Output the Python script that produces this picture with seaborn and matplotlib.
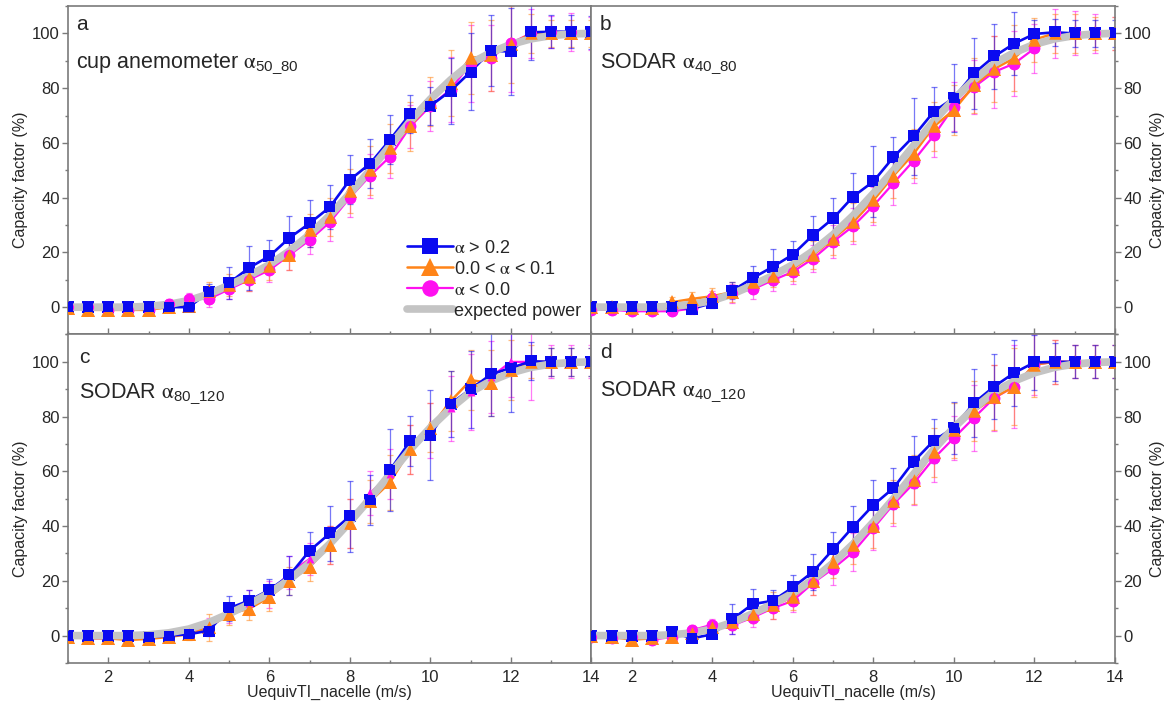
import numpy as np
import pandas as pd
import matplotlib
matplotlib.use("Agg")
import matplotlib.pyplot as plt
from matplotlib.ticker import MultipleLocator, FixedLocator
import seaborn as sns

# ---------------- data ----------------
wind = [1, 1.5, 2, 2.5, 3, 3.5, 4, 4.5, 5, 5.5, 6, 6.5, 7, 7.5, 8, 8.5, 9, 9.5,
        10, 10.5, 11, 11.5, 12, 12.5, 13, 13.5, 14]

expected = [0, 0, 0, 0, 0.3, 1, 2.4, 4.8, 8, 11.5, 15.5, 20.5, 26.5, 33.5, 41.5, 50,
            59, 68, 76, 83, 89, 93, 96, 98, 99.2, 99.8, 100]

# panel a
blue_a = [0, 0, 0, 0, 0, 0, 0, 5.5, 8.8, 14.4, 18.6, 25.3, 30.6, 36.5, 46.5, 52.4, 61.2,
          70.6, 73.5, 79, 86, 93.6, 93.4, 100.4, 100.6, 100.6, 100.4]
orange_a = [-0.5, -1, -1, -1, -1, 0, 0.5, 6, 8, 11, 15, 19, 28, 33, 42.5, 50, 58, 66, 75,
            82, 91, 92, 96, 100, 100, 100, 100]
pink_a = [0, 0, -1, -1, -1, 1, 3, 3, 6.5, 10, 13.5, 19, 24.5, 31, 40, 48, 55, 66, 73.5,
          79.5, 89, 91, 96.5, 100, 100.5, 100.5, 100]
blue_err_a = [1.5, 1.5, 1.5, 1.5, 1.5, 1.5, 1.5, 3, 6, 8, 6, 8, 8.5, 8, 9, 9, 9, 7, 7, 12,
              14, 13, 16, 10, 6, 6, 6]
orange_err_a = [1.5, 1.5, 1.5, 1.5, 1.5, 1.5, 1.5, 3, 4, 5, 5, 5.5, 6, 7, 8, 9, 9, 9, 9, 12,
                13, 13, 14, 7, 5, 5, 5]
pink_err_a = [1.5, 1.5, 1.5, 1.5, 1.5, 2, 2, 3, 3.5, 4, 4.5, 5.5, 5, 7, 7, 8, 8, 8, 9, 12,
              14, 12, 18, 9, 6, 7, 6]

# panel b
blue_b = [0, 0, 0, 0, 0, -0.6, 1.5, 6, 10.6, 14.7, 19.2, 26.3, 32.4, 40.4, 45.9, 54.8,
          62.4, 71.4, 76.5, 85.4, 91.6, 96.3, 99.8, 100.4, 100, 100, 100]
orange_b = [0, 0, -0.5, -0.5, 1.8, 3, 4, 5.5, 9, 11.5, 14, 19, 25, 31, 39, 48, 56, 66, 72,
            81, 87, 91, 97.7, 100, 100, 100, 100]
pink_b = [-1, -1, -1.5, -1.5, -1.5, -0.5, 3.5, 5, 6.5, 9.8, 12.9, 17.7, 23.9, 29.6, 37,
          45.3, 53.5, 62.7, 73.2, 80.4, 85.9, 89, 94.5, 100, 100, 100, 100]
blue_err_b = [1.5, 1.5, 1.5, 1.5, 1.5, 1.5, 2, 3, 4.5, 6.5, 5, 7, 7.5, 8.5, 13, 7.5, 14, 9,
              12.5, 13, 12, 11.5, 5, 5, 5, 5, 5]
orange_err_b = [1.5, 1.5, 1.5, 1.5, 2, 2.5, 3, 3.5, 4, 4, 4.5, 5, 6, 7, 8, 8, 9, 9, 9, 10,
                12, 12, 8, 7, 7, 6, 6]
pink_err_b = [1.5, 1.5, 1.5, 1.5, 1.5, 2, 2.5, 3.5, 3.5, 4, 4.5, 5, 6, 6.5, 7, 8, 8, 8, 9,
              10, 13, 12, 9, 9, 8, 7, 6]

# panel c
blue_c = [0, 0, 0, 0, -0.5, 0, 0.5, 1.8, 10, 12.8, 16.7, 22, 31, 37.3, 43.6, 49.5, 60.5,
          71.1, 73.3, 84.7, 90, 95.4, 97.8, 100.2, 100, 100, 100]
orange_c = [-0.5, -1, -1, -1.6, -1.2, -0.5, 0.5, 3, 8, 9.8, 14, 20, 25, 33, 41, 49, 56, 68,
            76, 85.6, 93.3, 92.3, 97, 100, 100, 100, 100]
pink_c = [-0.5, -1, -1, -1, -1, 0, 1, 3.5, 7.5, 12, 15, 23, 28, 33, 41, 52, 59, 68, 75, 83,
          89, 94.5, 100, 100, 100, 100, 100]
blue_err_c = [1.5, 1.5, 1.5, 1.5, 1.5, 1.5, 1.5, 2, 4.5, 4, 4, 7, 7, 10, 13, 9, 15, 9,
              16.5, 12, 14, 15, 16, 7, 5, 5, 5]
orange_err_c = [1.5, 1.5, 1.5, 1.5, 1.5, 2, 2, 5, 4, 4, 5, 5, 5, 7, 9, 8, 10, 9, 9, 11, 11,
                12, 11, 6, 5, 5, 5]
pink_err_c = [1.5, 1.5, 1.5, 1.5, 1.5, 2, 2, 3, 3, 4.5, 5, 6, 6, 7, 9, 8, 9, 9, 10, 12, 14,
              13, 13, 14, 6, 6, 6]

# panel d
blue_d = [0, 0, 0, 0, 1.2, -1, 0.5, 6, 11.5, 12.7, 17.6, 23.3, 31.5, 39.8, 47.7, 53.9,
          63.6, 71.2, 76, 85, 91, 96, 99.8, 100, 100, 100, 100]
orange_d = [0, -0.5, -1.5, -1, -0.5, 1, 3, 5, 8, 11, 14, 20, 27, 33, 40, 49, 57, 67, 75, 82,
            87, 91, 99, 100, 100, 100, 100]
pink_d = [-0.5, -1, -0.5, -1.5, -0.5, 2, 4, 3.7, 6.6, 10, 12.7, 19.2, 24.5, 30.5, 39.2, 48,
          55.6, 64.7, 72.2, 79.6, 86.8, 91, 99, 100, 100, 100, 100]
blue_err_d = [1.5, 1.5, 1.5, 1.5, 1.5, 1.5, 1.5, 5.5, 5.5, 4, 4.5, 6.5, 6.5, 7.5, 9, 7.5,
              9.5, 8, 9.5, 12.5, 12, 12, 10, 7, 6, 6, 6]
orange_err_d = [1.5, 1.5, 1.5, 1.5, 1.5, 2, 2, 3, 3.5, 5, 4.5, 5, 6, 7, 8, 8, 9, 9, 10, 11,
                12, 14, 12, 8, 6, 6, 6]
pink_err_d = [1.5, 1.5, 1.5, 1.5, 1.5, 2, 2, 3, 3.5, 4, 4, 4.5, 6, 7, 8, 8, 8, 8.5, 8, 12,
              12, 15, 11, 8, 6, 6, 6]

panel_letters = ["a", "b", "c", "d"]
panel_titles = [r"cup anemometer $\mathrm{\alpha}_{\mathregular{50\_80}}$",
                r"SODAR $\mathrm{\alpha}_{\mathregular{40\_80}}$",
                r"SODAR $\mathrm{\alpha}_{\mathregular{80\_120}}$",
                r"SODAR $\mathrm{\alpha}_{\mathregular{40\_120}}$"]
series_labels = [r"$\mathrm{\alpha}$ > 0.2", r"0.0 < $\mathrm{\alpha}$ < 0.1",
                 r"$\mathrm{\alpha}$ < 0.0", "expected power"]
x_label = "UequivTI_nacelle (m/s)"
y_label = "Capacity factor (%)"

panels = [
    (blue_a, orange_a, pink_a, blue_err_a, orange_err_a, pink_err_a),
    (blue_b, orange_b, pink_b, blue_err_b, orange_err_b, pink_err_b),
    (blue_c, orange_c, pink_c, blue_err_c, orange_err_c, pink_err_c),
    (blue_d, orange_d, pink_d, blue_err_d, orange_err_d, pink_err_d),
]

# ---------------- style ----------------
sns.set_theme(style="white")
plt.rcParams["font.family"] = ["Liberation Sans", "DejaVu Sans"]
plt.rcParams["mathtext.fontset"] = "stix"
plt.rcParams["axes.edgecolor"] = "#7a7a7a"
plt.rcParams["axes.linewidth"] = 1.2

BLUE = "#0a0af0"
ORANGE = "#ff8418"
PINK = "#ff10f0"
GRAY = "#c4c4c4"
TICKC = "#7a7a7a"

fig, axes = plt.subplots(2, 2, figsize=(11.68, 7.08), dpi=100)
fig.subplots_adjust(left=0.0582, right=0.9546, top=0.9915, bottom=0.0636,
                    wspace=0, hspace=0)

for i, ax in enumerate(axes.flat):
    blue, orange, pink, be, oe, pe = panels[i]
    df = pd.DataFrame({"x": wind, "blue": blue, "orange": orange, "pink": pink,
                       "exp": expected})
    pink_marker = "^" if i == 2 else "o"
    pink_ms = 6 if i == 2 else 8.5
    specs = [("pink", pink, pe, PINK, pink_marker, pink_ms, 1.6, series_labels[2]),
             ("orange", orange, oe, ORANGE, "^", 9.5, 1.8, series_labels[1]),
             ("blue", blue, be, BLUE, "s", 8, 1.9, series_labels[0])]
    handles = {}
    for col, vals, err, c, m, ms, lw, lab in specs:
        ax.errorbar(wind, vals, yerr=err, fmt="none", ecolor=c, elinewidth=0.9,
                    capsize=2.5, capthick=0.9, alpha=0.55, zorder=1.5)
        sns.lineplot(data=df, x="x", y=col, ax=ax, color=c, linewidth=lw,
                     marker=m, markersize=ms, markeredgewidth=0, legend=False,
                     label=lab, zorder=2)
        handles[col] = ax.lines[-1]
    sns.lineplot(data=df, x="x", y="exp", ax=ax, color=GRAY, linewidth=5.5,
                 legend=False, label=series_labels[3], zorder=2.5)
    handles["exp"] = ax.lines[-1]
    for col, vals, err, c, m, ms, lw, lab in specs:
        sns.scatterplot(data=df, x="x", y=col, ax=ax, color=c, marker=m,
                        s=ms ** 2 * 0.9, linewidth=0, legend=False, zorder=3)

    ax.set_xlim(1, 14)
    ax.set_ylim(-10, 110)
    ax.xaxis.set_major_locator(FixedLocator([2, 4, 6, 8, 10, 12, 14]))
    ax.xaxis.set_minor_locator(MultipleLocator(1))
    ax.yaxis.set_minor_locator(MultipleLocator(10))
    ax.set_yticks([0, 20, 40, 60, 80, 100])
    ax.tick_params(axis="x", which="major", direction="in", length=4, width=1,
                   color=TICKC, labelsize=12, pad=5)
    ax.tick_params(axis="x", which="minor", direction="in", length=2.5, width=1,
                   color=TICKC)
    ax.tick_params(axis="y", which="major", direction="out", length=4, width=1,
                   color=TICKC, labelsize=12, pad=2)
    ax.tick_params(axis="y", which="minor", direction="out", length=2.5, width=1,
                   color=TICKC)
    ax.tick_params(bottom=True, left=True, which="both")

    if i < 2:
        ax.tick_params(axis="x", labelbottom=False)
        ax.set_xlabel("")
    else:
        ax.set_xlabel(x_label, fontsize=11.5, labelpad=0)
    if i % 2 == 1:
        ax.yaxis.tick_right()
        ax.yaxis.set_label_position("right")
        ax.tick_params(axis="y", which="both", left=False, right=True)
        ax.set_ylabel(y_label, fontsize=11.5)
        ax.yaxis.set_label_coords(1.066, 0.47)
    else:
        ax.set_ylabel(y_label, fontsize=11.5)
        ax.yaxis.set_label_coords(-0.077, 0.47)
    if i == 3:
        labels = ["", "2", "4", "6", "8", "10", "12", "14"]
        ax.set_xticks([1, 2, 4, 6, 8, 10, 12, 14])
        ax.set_xticklabels(labels)
        ax.xaxis.set_minor_locator(MultipleLocator(1))

    tx = 0.016 if i != 2 else 0.022
    ax.text(tx, 0.945 if i != 2 else 0.93, panel_letters[i], transform=ax.transAxes,
            fontsize=15, va="center", ha="left")
    ax.text(tx, 0.825 if i != 2 else 0.82, panel_titles[i], transform=ax.transAxes,
            fontsize=15.5, va="center", ha="left")

    if i == 0:
        hs = [handles["blue"], handles["orange"], handles["pink"], handles["exp"]]
        ax.legend(hs, series_labels, loc="lower right", bbox_to_anchor=(1.0, 0.012),
                  frameon=False, fontsize=13, handlelength=2.5, handletextpad=0.05,
                  labelspacing=0.22, markerscale=1.4, borderaxespad=0.2)

fig.savefig("out.png", dpi=100)
